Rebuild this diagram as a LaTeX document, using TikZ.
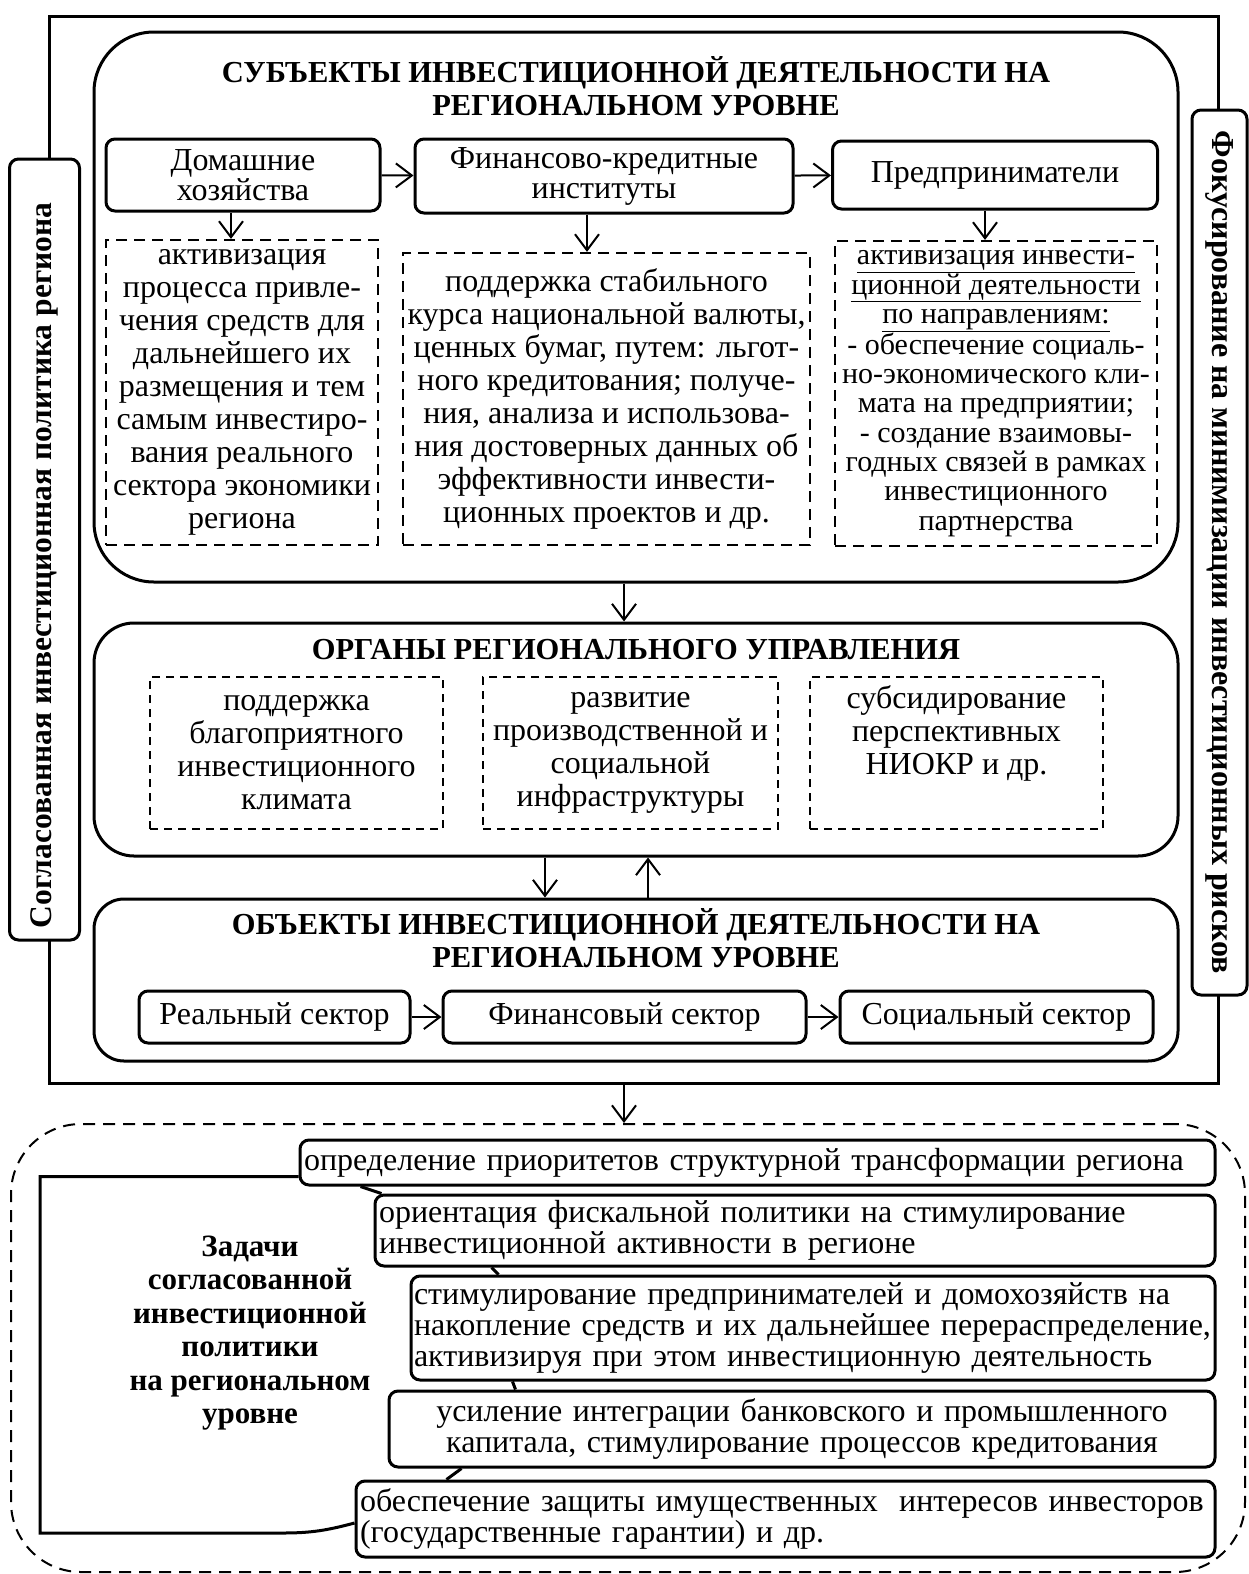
\documentclass[tikz,border=0pt]{standalone}
\usepackage{fontspec}
\setmainfont{Liberation Serif}
\usetikzlibrary{positioning,arrows.meta}
\tikzset{
    every node/.style={font=\fontsize{32}{33}\selectfont, inner sep=4pt},
    rbox/.style={draw, line width=3pt, rounded corners=9pt, fill=white, align=center,
        font=\fontsize{32}{30}\selectfont},
    bigbox/.style={draw, line width=3pt},
    dbox/.style={draw, line width=2.2pt, dash pattern=on 11pt off 7pt, align=center},
    thindbox/.style={draw, line width=1.6pt, dash pattern=on 8pt off 6pt, align=center},
    taskbox/.style={rbox, align=left, font=\fontsize{32}{31}\selectfont},
    arr/.style={-{Straight Barb[length=16pt,width=24pt]}, line width=2pt},
    link/.style={line width=3pt},
    heading/.style={font=\fontsize{30.5}{33}\selectfont\bfseries, align=center}
}

\begin{document}
\begin{tikzpicture}[x=1pt,y=-1pt]
\useasboundingbox (0,0) rectangle (1249,1574);

\node[bigbox, minimum width=1169pt, minimum height=1067pt] (frame) at (633.5,549.5) {};
\node[rbox, rotate=90, minimum width=781pt, minimum height=70pt, font=\fontsize{31.5}{33}\selectfont\bfseries]
    (left) at (44.5,549.5) {Согласованная инвестиционная политика региона\hspace*{32pt}};
\node[rbox, rotate=-90, minimum width=885pt, minimum height=55pt, font=\fontsize{32}{33}\selectfont\bfseries]
    (right) at (1219.5,552.5) {Фокусирование на минимизации инвестиционных рисков};

% subjects
\node[bigbox, rounded corners=60pt, minimum width=1084pt, minimum height=550pt] (subj) at (636,307) {};
\node[heading] (subj-title) at (636,86) {СУБЪЕКТЫ ИНВЕСТИЦИОННОЙ ДЕЯТЕЛЬНОСТИ НА\\РЕГИОНАЛЬНОМ УРОВНЕ};
\node[rbox, minimum width=274pt, minimum height=72pt] (dom) at (243,175) {Домашние\\хозяйства};
\node[rbox, minimum width=378pt, minimum height=74pt] (fin) at (604,176) {Финансово-кредитные\\институты};
\node[rbox, minimum width=325pt, minimum height=68pt] (pred) at (995,175) {Предприниматели};

\node[dbox, minimum width=272pt, minimum height=305pt] (dom-d) at (242,392.5)
    {активизация\\процесса привле-\\чения средств для\\дальнейшего их\\размещения и тем\\самым инвестиро-\\вания реального\\сектора экономики\\региона};
\node[dbox, minimum width=407pt, minimum height=292pt, inner sep=1pt] (fin-d) at (606.5,399)
    {поддержка стабильного\\курса национальной валюты,\\ценных бумаг, путем: льгот-\\ного кредитования; получе-\\ния, анализа и использова-\\ния достоверных данных об\\эффективности инвести-\\ционных проектов и др.};
\node[dbox, minimum width=322pt, minimum height=305pt, inner sep=0pt, font=\fontsize{30}{29.3}\selectfont]
    (pred-d) at (996,393.5)
    {\underline{активизация инвести-}\\\underline{ционной деятельности}\\\underline{по направлениям:}\\- обеспечение социаль-\\но-экономического кли-\\мата на предприятии;\\- создание взаимовы-\\годных связей в рамках\\инвестиционного\\партнерства};

\draw[arr] (dom) -- (fin);
\draw[arr] (fin) -- (pred);
\draw[arr] ([xshift=-12pt]dom.south) -- ([xshift=-12pt]dom.south |- dom-d.north);
\draw[arr] ([xshift=-17pt]fin.south) -- ([xshift=-17pt]fin.south |- fin-d.north);
\draw[arr] ([xshift=-10pt]pred.south) -- ([xshift=-10pt]pred.south |- pred-d.north);

% organs
\node[bigbox, rounded corners=40pt, minimum width=1084pt, minimum height=233pt] (org) at (636,739.5) {};
\node[heading] (org-title) at (636,650) {ОРГАНЫ РЕГИОНАЛЬНОГО УПРАВЛЕНИЯ};
\node[thindbox, minimum width=293pt, minimum height=152pt] (org-a) at (296.5,753)
    {поддержка\\благоприятного\\инвестиционного\\климата};
\node[thindbox, minimum width=295pt, minimum height=152pt] (org-b) at (630.5,753)
    {развитие\\производственной и\\социальной\\инфраструктуры};
\node[thindbox, minimum width=293pt, minimum height=152pt] (org-c) at (956.5,753) {};
\node[below=5pt of org-c.north, align=center] (org-c-text) {субсидирование\\перспективных\\НИОКР и др.};

\draw[arr] ([xshift=-12pt]subj.south) -- ([xshift=-12pt]org.north);

% objects
\node[bigbox, rounded corners=30pt, minimum width=1084pt, minimum height=162pt] (obj) at (636,980) {};
\node[heading] (obj-title) at (636,938) {ОБЪЕКТЫ ИНВЕСТИЦИОННОЙ ДЕЯТЕЛЬНОСТИ НА\\РЕГИОНАЛЬНОМ УРОВНЕ};
\node[rbox, minimum width=271pt, minimum height=52pt] (real) at (274.5,1017) {Реальный сектор};
\node[rbox, minimum width=363pt, minimum height=52pt] (fin-sec) at (624.5,1017) {Финансовый сектор};
\node[rbox, minimum width=313pt, minimum height=52pt] (soc) at (996.5,1017) {Социальный сектор};

\draw[arr] (real) -- (fin-sec);
\draw[arr] (fin-sec) -- (soc);
\draw[arr] ([xshift=-91pt]org.south) -- ([xshift=-91pt]obj.north);
\draw[arr] ([xshift=12pt]obj.north) -- ([xshift=12pt]org.south);

% tasks
\node[draw, line width=2pt, dash pattern=on 12pt off 8pt, rounded corners=70pt,
    minimum width=1234pt, minimum height=448pt] (tasks) at (628,1348) {};
\draw[arr] ([xshift=-9.5pt]frame.south) -- ([xshift=-9.5pt]frame.south |- tasks.north);

\node[heading, font=\fontsize{31}{33.5}\selectfont\bfseries] (goal) at (250,1333)
    {Задачи\\согласованной\\инвестиционной\\политики\\на региональном\\уровне};

\node[taskbox, minimum width=915pt, minimum height=45pt, text width=907pt] (t1) at (757.5,1162.5)
    {определение приоритетов структурной трансформации региона};
\node[taskbox, minimum width=840pt, minimum height=71pt, text width=832pt] (t2) at (795,1230.5)
    {ориентация фискальной политики на стимулирование\\инвестиционной активности в регионе};
\node[taskbox, minimum width=804pt, minimum height=104pt, text width=798pt, inner sep=3pt] (t3) at (813,1328)
    {стимулирование предпринимателей и домохозяйств на\\накопление средств и их дальнейшее перераспределение,\\активизируя при этом инвестиционную деятельность};
\node[taskbox, align=center, minimum width=826pt, minimum height=76pt, text width=818pt] (t4) at (802,1429)
    {усиление интеграции банковского и промышленного\\капитала, стимулирование процессов кредитования};
\node[taskbox, minimum width=859pt, minimum height=76pt, text width=851pt] (t5) at (785.5,1519)
    {обеспечение защиты имущественных\ \ интересов инвесторов\\(государственные гарантии) и др.};

\coordinate (brk) at (40,1533);
\draw[link] ([yshift=-14pt]t1.west) -| (brk) -- ++(243,0) to[out=0,in=195] ([yshift=-4pt]t5.west);
\draw[link] ([xshift=62pt]t1.south west) -- ([xshift=8pt]t2.north west);
\draw[link] ([xshift=118pt]t2.south west) -- ([xshift=89pt]t3.north west);
\draw[link] ([xshift=103pt]t3.south west) -- ([xshift=128pt]t4.north west);
\draw[link] ([xshift=74pt]t4.south west) -- ([xshift=92pt]t5.north west);
\end{tikzpicture}
\end{document}
